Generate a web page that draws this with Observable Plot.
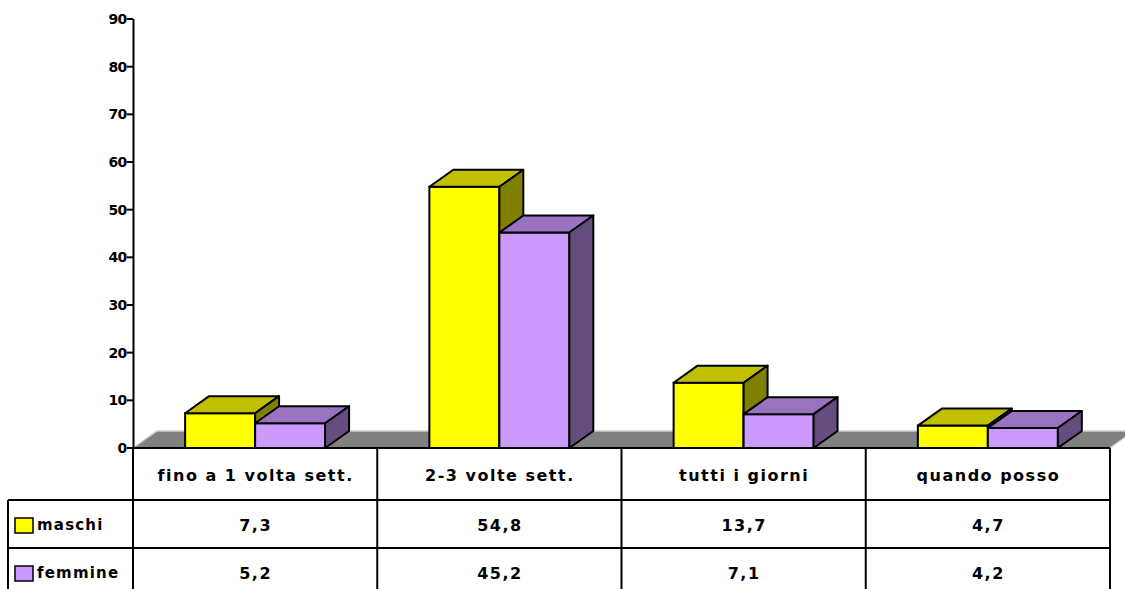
<!DOCTYPE html>
<html><head><meta charset="utf-8">
<script src="https://cdn.jsdelivr.net/npm/d3@7"></script>
<script src="https://cdn.jsdelivr.net/npm/@observablehq/plot@0.6"></script>
<style>
body{margin:0;background:#fff;}
#chart svg text{font-family:"DejaVu Sans",sans-serif;font-weight:bold;}
</style></head><body><div id="chart"></div>
<script>
// ---- data ----
const categories = ["fino a 1 volta sett.", "2-3 volte sett.", "tutti i giorni", "quando posso"];
const seriesNames = ["maschi", "femmine"];
const maschi = [7.3, 54.8, 13.7, 4.7];
const femmine = [5.2, 45.2, 7.1, 4.2];
const yTicks = [0, 10, 20, 30, 40, 50, 60, 70, 80, 90];
const frontColors = ["#FFFF00", "#CC99FF"];
const topColors = ["#C0C000", "#9973BF"];
const sideColors = ["#808000", "#664D80"];

// ---- layout ----
const BAR = 0.2866;   // bar width as fraction of a category band
const DX = 0.098;     // 3D depth offset (x units)
const DY = 3.57;      // 3D depth offset (y units)
const fmt = v => d3.format(".1f")(v).replace(".", ",");

const seriesValues = [maschi, femmine];
const marks = [];

// floor
const floor = [{y: 0, x1: 0, x2: categories.length}, {y: DY, x1: DX, x2: categories.length + DX}];
marks.push(Plot.areaX(floor, {y: "y", x1: "x1", x2: "x2", fill: "#808080", stroke: "#d0d0d0", strokeWidth: 1.5}));

seriesValues.forEach((vals, s) => {
  const rows = categories.map((c, i) => {
    const xl = i + 0.5 + (s - 1) * BAR;
    return {c, v: vals[i], y0: 0, xl, xr: xl + BAR};
  });
  marks.push(Plot.rect(rows, {x1: "xl", x2: "xr", y1: "y0", y2: "v", fill: frontColors[s], stroke: "black", strokeWidth: 2}));
  const tops = rows.flatMap(r => [
    {c: r.c, y: r.v, x1: r.xl, x2: r.xr},
    {c: r.c, y: r.v + DY, x1: r.xl + DX, x2: r.xr + DX}
  ]);
  marks.push(Plot.areaX(tops, {y: "y", x1: "x1", x2: "x2", z: "c", fill: topColors[s], stroke: "black", strokeWidth: 2, strokeLinejoin: "round"}));
  const sides = rows.flatMap(r => [
    {c: r.c, x: r.xr, y1: 0, y2: r.v},
    {c: r.c, x: r.xr + DX, y1: DY, y2: r.v + DY}
  ]);
  marks.push(Plot.areaY(sides, {x: "x", y1: "y1", y2: "y2", z: "c", fill: sideColors[s], stroke: "black", strokeWidth: 2, strokeLinejoin: "round"}));
});

// y axis line and tick labels
marks.push(Plot.ruleX([{x: 0, y1: 0, y2: d3.max(yTicks)}], {x: "x", y1: "y1", y2: "y2", stroke: "black", strokeWidth: 2}));
marks.push(Plot.text(yTicks, {y: d => d, text: d => String(d), frameAnchor: "left", textAnchor: "end", dx: -7, fontSize: 14, fontWeight: "bold", fill: "black"}));

// data table grid + legend
marks.push((index, scales) => {
  const x = scales.x, y = scales.y;
  const y0 = y(0), n = categories.length;
  const r1 = y0 + 52, r2 = r1 + 48, r3 = r2 + 48;
  const left = 8;
  const g = d3.create("svg:g").attr("stroke", "black").attr("stroke-width", 2);
  const line = (x1, y1, x2, y2) => g.append("line").attr("x1", x1).attr("y1", y1).attr("x2", x2).attr("y2", y2);
  // y-axis tick marks
  yTicks.forEach(t => line(x(0) - 6, y(t), x(0), y(t)));
  line(x(0), y0, x(n), y0);
  line(left, r1, x(n), r1);
  line(left, r2, x(n), r2);
  line(left, r3, x(n), r3);
  line(left, r1, left, r3);
  for (let i = 0; i <= n; i++) line(x(i), y0, x(i), r3);
  seriesNames.forEach((name, s) => {
    const cy = r1 + 48 * s + 24;
    g.append("rect").attr("x", 15).attr("y", cy - 6).attr("width", 18).attr("height", 15)
      .attr("fill", frontColors[s]).attr("stroke-width", 1.5);
    g.append("text").attr("x", 37).attr("y", cy + 1).attr("dy", "0.35em")
      .attr("text-anchor", "start").attr("stroke", "none").attr("letter-spacing", "1.2")
      .attr("fill", "black").attr("font-size", 15).text(name);
  });
  return g.node();
});

// category labels and values
const labelRows = categories.map((c, i) => ({c, xc: i + 0.5, y0: 0, m: maschi[i], f: femmine[i]}));
const textOpts = {x: "xc", y: "y0", fontSize: 16, fontWeight: "bold", fill: "black"};
marks.push(Plot.text(labelRows, {...textOpts, dy: 27, text: "c"}));
marks.push(Plot.text(labelRows, {...textOpts, dy: 77, text: d => fmt(d.m)}));
marks.push(Plot.text(labelRows, {...textOpts, dy: 125, text: d => fmt(d.f)}));

const chart = Plot.plot({
  width: 1125,
  height: 589,
  marginLeft: 133,
  marginRight: 15,
  marginTop: 19,
  marginBottom: 141,
  style: {background: "white", color: "black", overflow: "visible"},
  x: {domain: [0, categories.length], axis: null},
  y: {domain: [0, d3.max(yTicks)], axis: null},
  marks
});
// letter spacing for table texts, tighter tick labels
const tickStrings = yTicks.map(String);
chart.querySelectorAll("text").forEach(t => {
  const s = t.textContent;
  if (categories.includes(s) || /^\d+,\d$/.test(s)) t.setAttribute("letter-spacing", "1.5");
  else if (tickStrings.includes(s)) t.setAttribute("letter-spacing", "-0.8");
});
document.getElementById("chart").appendChild(chart);
</script>
</body></html>
